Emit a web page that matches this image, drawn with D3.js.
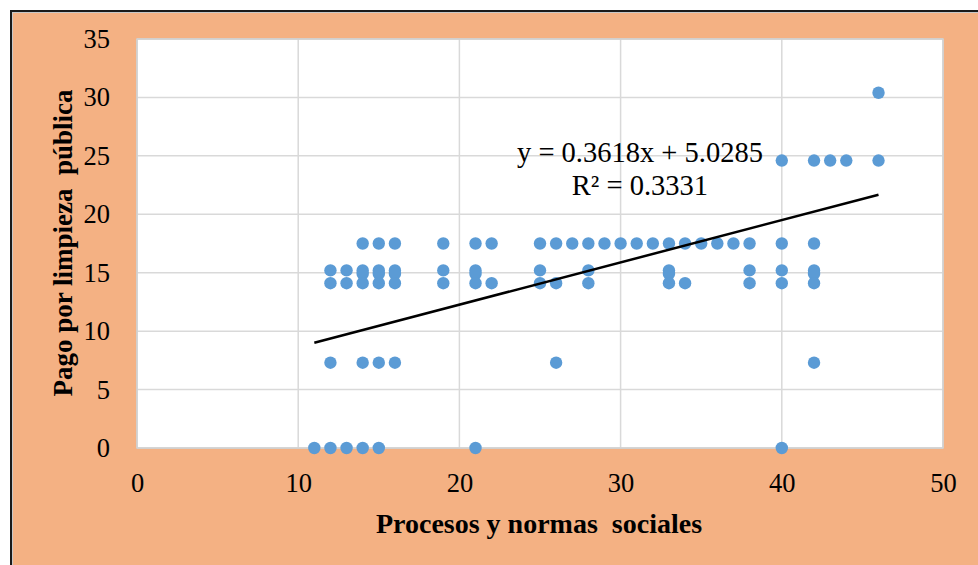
<!DOCTYPE html>
<html>
<head>
<meta charset="utf-8">
<script src="https://cdn.jsdelivr.net/npm/d3@7"></script>
<style>
  html, body { margin: 0; padding: 0; background: #ffffff; }
  svg { display: block; }
  svg text { font-family: "Liberation Serif", "Times New Roman", serif; }
</style>
</head>
<body>
<svg id="chart" width="978" height="565"></svg>
<script>
// ---- data ----
const xValues = [
  11,
  12, 12, 12, 12,
  13, 13, 13,
  14, 14, 14, 14, 14, 14,
  15, 15, 15, 15, 15, 15,
  16, 16, 16, 16, 16,
  19, 19, 19,
  21, 21, 21, 21, 21,
  22, 22,
  25, 25, 25,
  26, 26, 26,
  27,
  28, 28, 28,
  29, 30, 31, 32,
  33, 33, 33, 33,
  34, 34,
  35, 36, 37,
  38, 38, 38,
  40, 40, 40, 40, 40,
  42, 42, 42, 42, 42, 42,
  43, 44,
  46, 46
];
const yValues = [
  0,
  15.2, 14.1, 7.3, 0,
  15.2, 14.1, 0,
  17.5, 15.2, 14.9, 14.1, 7.3, 0,
  17.5, 15.2, 14.9, 14.1, 7.3, 0,
  17.5, 15.2, 14.9, 14.1, 7.3,
  17.5, 15.2, 14.1,
  17.5, 15.2, 14.9, 14.1, 0,
  17.5, 14.1,
  17.5, 15.2, 14.1,
  17.5, 14.1, 7.3,
  17.5,
  17.5, 15.2, 14.1,
  17.5, 17.5, 17.5, 17.5,
  17.5, 15.2, 14.9, 14.1,
  17.5, 14.1,
  17.5, 17.5, 17.5,
  17.5, 15.2, 14.1,
  24.6, 17.5, 15.2, 14.1, 0,
  24.6, 17.5, 15.2, 14.9, 14.1, 7.3,
  24.6, 24.6,
  30.4, 24.6
];
const xTicks = [0, 10, 20, 30, 40, 50];
const yTicks = [0, 5, 10, 15, 20, 25, 30, 35];
const trendSlope = 0.3618;
const trendIntercept = 5.0285;
const trendRange = [11, 46];
const equationLines = ["y = 0.3618x + 5.0285", "R\u00B2 = 0.3331"];
const xTitle = "Procesos y normas  sociales";
const yTitle = "Pago por limpieza  pública";

// ---- layout ----
const FONT = '"Liberation Serif", "Times New Roman", serif';
const svg = d3.select("#chart");
const W = 978, H = 565;
const plot = { left: 137, right: 943, top: 39, bottom: 448 };

// chart area background + outer border
svg.append("rect")
  .attr("x", 11).attr("y", 11)
  .attr("width", W + 10).attr("height", H + 10)
  .attr("fill", "#F4B183")
  .attr("stroke", "#1a1a1a").attr("stroke-width", 2);
svg.append("rect")
  .attr("x", 12.5).attr("y", 12.5)
  .attr("width", W + 10).attr("height", H + 10)
  .attr("fill", "none")
  .attr("stroke", "#c8c8c8").attr("stroke-width", 1);

const x = d3.scaleLinear().domain([0, 50]).range([plot.left, plot.right]);
const y = d3.scaleLinear().domain([0, 35]).range([plot.bottom, plot.top]);

// plot area
svg.append("rect")
  .attr("x", plot.left).attr("y", plot.top)
  .attr("width", plot.right - plot.left).attr("height", plot.bottom - plot.top)
  .attr("fill", "#ffffff");

// gridlines
const grid = svg.append("g");
grid.selectAll("line.h").data(yTicks).join("line")
  .attr("x1", plot.left).attr("x2", plot.right)
  .attr("y1", d => y(d)).attr("y2", d => y(d))
  .attr("stroke", "#d9d9d9").attr("stroke-width", 1.5);
grid.selectAll("line.v").data(xTicks).join("line")
  .attr("y1", plot.top).attr("y2", plot.bottom)
  .attr("x1", d => x(d)).attr("x2", d => x(d))
  .attr("stroke", "#d9d9d9").attr("stroke-width", 1.5);

// plot area border
svg.append("rect")
  .attr("x", plot.left).attr("y", plot.top)
  .attr("width", plot.right - plot.left).attr("height", plot.bottom - plot.top)
  .attr("fill", "none")
  .attr("stroke", "#d0d0d0").attr("stroke-width", 1.5);

// axes (labels only)
const xAxis = d3.axisBottom(x).tickValues(xTicks).tickSize(0).tickPadding(0).tickFormat(d3.format("d"));
const gx = svg.append("g").attr("transform", `translate(0,${plot.bottom + 25})`).call(xAxis);
gx.attr("font-family", null).attr("font-size", null);
gx.select(".domain").remove();
gx.selectAll("text")
  .style("font-family", FONT)
  .style("font-size", "26.5px").attr("fill", "#000").attr("dy", "0.71em");

const yAxis = d3.axisLeft(y).tickValues(yTicks).tickSize(0).tickPadding(0).tickFormat(d3.format("d"));
const gy = svg.append("g").attr("transform", `translate(${plot.left - 27},0)`).call(yAxis);
gy.attr("font-family", null).attr("font-size", null);
gy.select(".domain").remove();
gy.selectAll("text")
  .style("font-family", FONT)
  .style("font-size", "26.5px").attr("fill", "#000");

// points
const pts = xValues.map((v, i) => ({ x: v, y: yValues[i] }));
svg.append("g").selectAll("circle").data(pts).join("circle")
  .attr("cx", d => x(d.x)).attr("cy", d => y(d.y))
  .attr("r", 6.2)
  .attr("fill", "#5B9BD5");

// trendline
svg.append("line")
  .attr("x1", x(trendRange[0])).attr("y1", y(trendSlope * trendRange[0] + trendIntercept))
  .attr("x2", x(trendRange[1])).attr("y2", y(trendSlope * trendRange[1] + trendIntercept))
  .attr("stroke", "#000").attr("stroke-width", 2.5);

// equation label
svg.append("g").selectAll("text").data(equationLines).join("text")
  .attr("x", 640).attr("y", (d, i) => 162 + i * 33)
  .attr("text-anchor", "middle")
  .style("font-family", FONT)
  .style("font-size", "28.5px").attr("fill", "#000")
  .text(d => d);

// axis titles
svg.append("text")
  .attr("x", 539).attr("y", 533)
  .attr("text-anchor", "middle")
  .style("font-family", FONT)
  .style("font-size", "28px").attr("font-weight", "bold")
  .style("white-space", "pre")
  .text(xTitle);

svg.append("text")
  .attr("transform", "translate(72,243) rotate(-90)")
  .attr("text-anchor", "middle")
  .style("font-family", FONT)
  .style("font-size", "27px").attr("font-weight", "bold")
  .style("white-space", "pre")
  .text(yTitle);
</script>
</body>
</html>
